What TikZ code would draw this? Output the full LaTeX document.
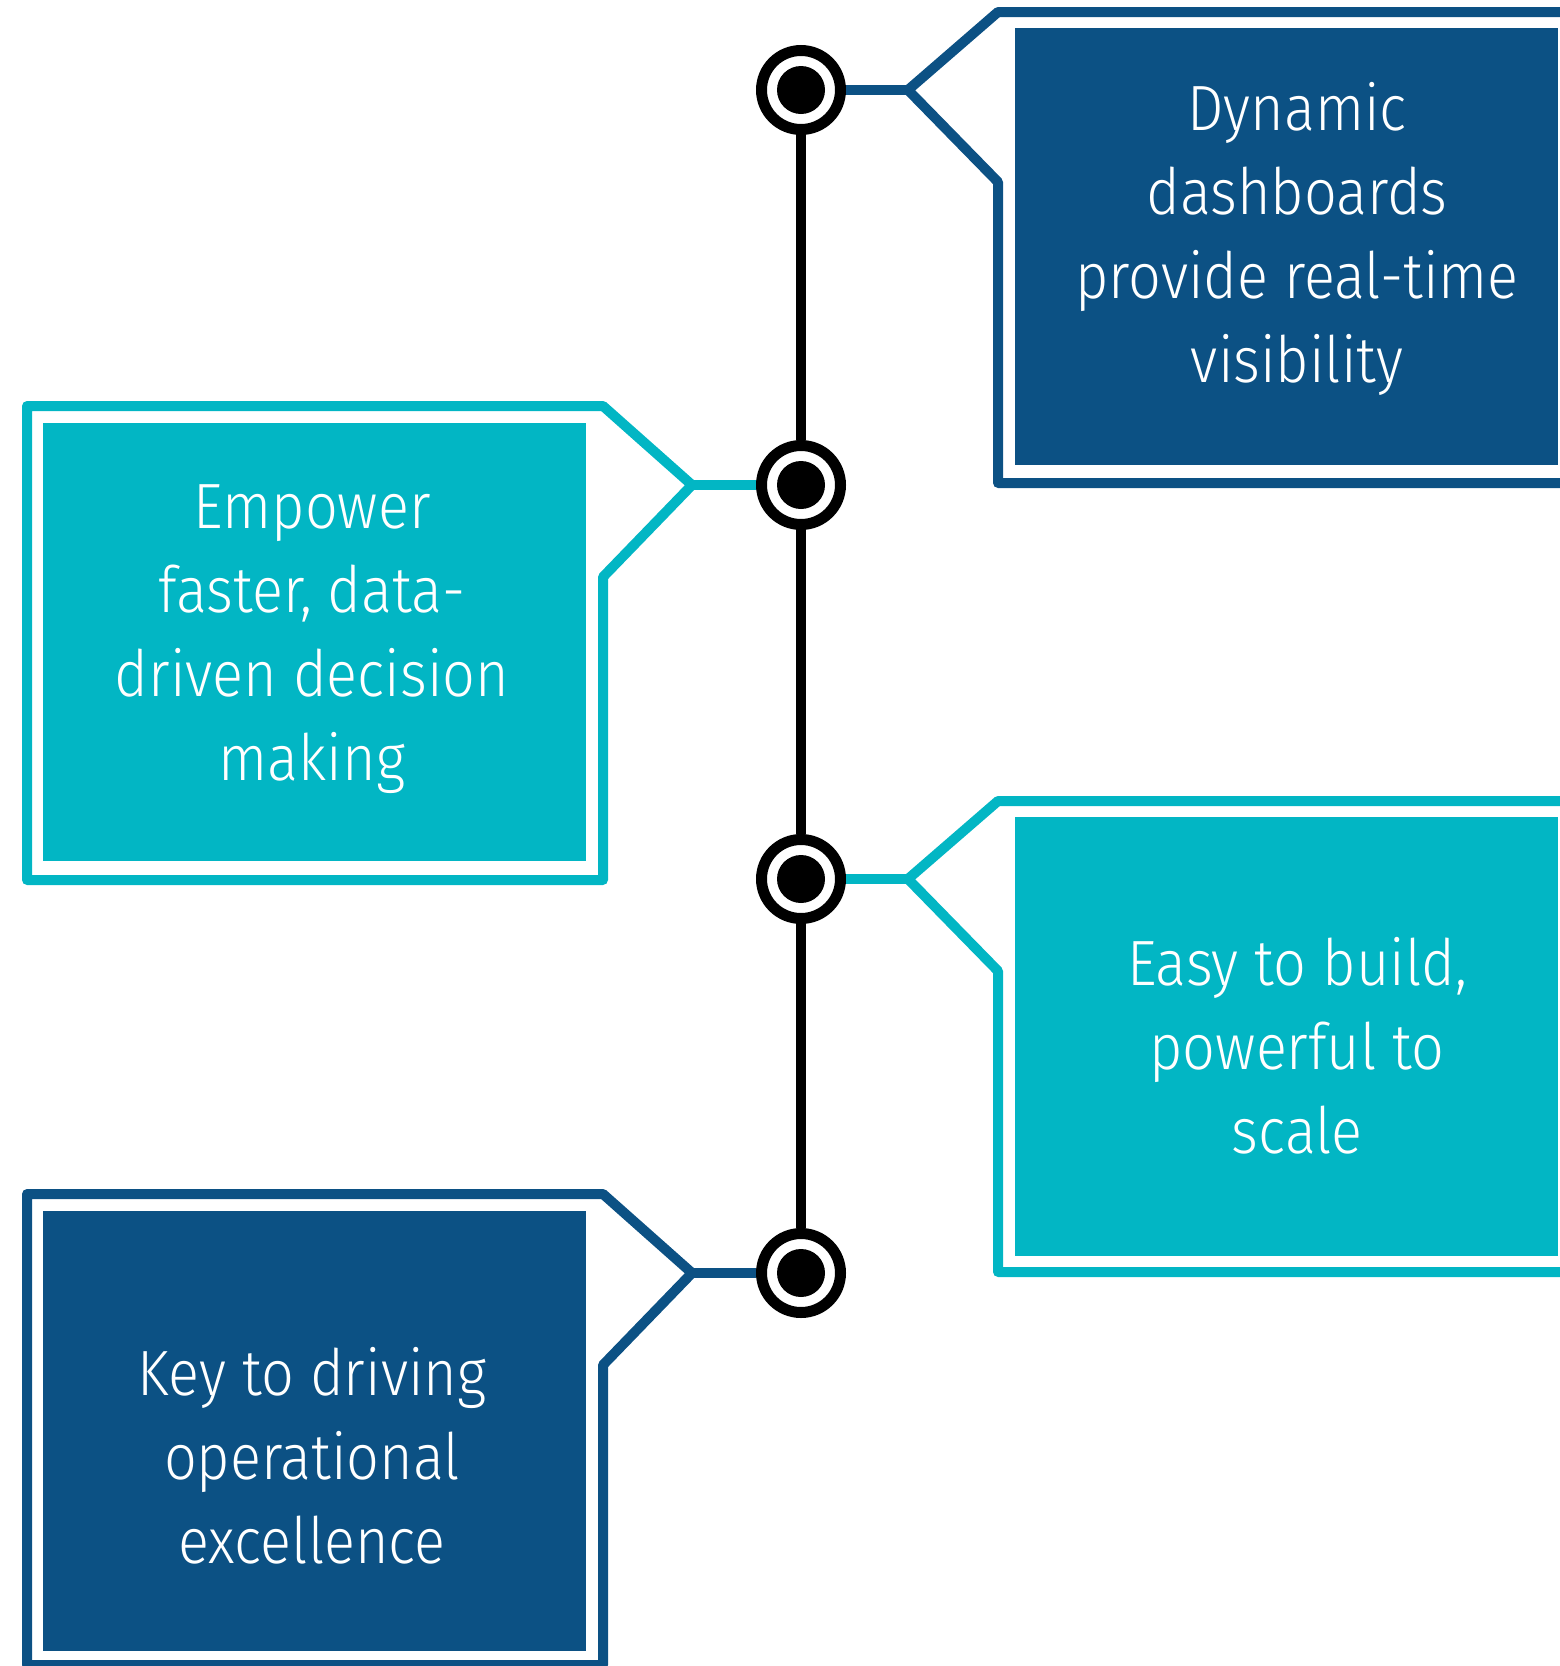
\documentclass[tikz,border=0pt]{standalone}
\usepackage{fontspec}
\setmainfont{Fira Sans Light}[FakeStretch=0.9]
\usetikzlibrary{positioning}
\definecolor{boxblue}{HTML}{0C5184}
\definecolor{boxcyan}{HTML}{02B6C4}

\begin{document}
\begin{tikzpicture}[x=1pt, y=-1pt,
  milestone/.style={circle, draw=black, line width=11pt, fill=white, inner sep=0pt, minimum size=79pt,
    path picture={\fill[black] (path picture bounding box.center) circle (24pt);}},
  spine/.style={draw=black, line width=10pt},
  boxframe/.style={line width=10pt, line join=round},
  card/.style={inner sep=0pt, minimum width=543pt},
  cardtext/.style={text=white, align=center, font=\fontsize{64}{84}\selectfont}]
	\useasboundingbox (0,0) rectangle (1560,1666);
	\clip (0,0) rectangle (1560,1666);
	\node[card, fill=boxblue, minimum height=437pt] (c1) at (1286,246.5) {};
	\node[card, fill=boxcyan, minimum height=438pt] (c2) at (314.5,642) {};
	\node[card, fill=boxcyan, minimum height=439pt] (c3) at (1286,1036.5) {};
	\node[card, fill=boxblue, minimum height=440pt] (c4) at (314.5,1431) {};
	\node[cardtext] (t1) at (1297,239) {Dynamic\\dashboards\\provide real-time\\visibility};
	\node[cardtext] (t2) at (312,639) {Empower\\faster, data-\\driven decision\\making};
	\node[cardtext] (t3) at (1297,1046) {Easy to build,\\powerful to\\scale};
	\node[cardtext] (t4) at (312,1456) {Key to driving\\operational\\excellence};
	\node[milestone] (m1) at (801,90) {};
	\node[milestone] (m2) at (801,485) {};
	\node[milestone] (m3) at (801,879) {};
	\node[milestone] (m4) at (801,1273) {};
	\draw[spine] (m1) -- (m2) (m2) -- (m3) (m3) -- (m4);
	\coordinate (e1) at (908,90);
	\coordinate (e2) at (692,485);
	\coordinate (e3) at (908,879);
	\coordinate (e4) at (692,1273);
	\draw[boxframe, boxblue] (1575,12) -- (998,12) -- (e1) -- (998,182) -- (998,483) -- (1575,483);
	\draw[boxframe, boxcyan] (27,406) -- (603,406) -- (e2) -- (603,577) -- (603,880) -- (27,880) -- cycle;
	\draw[boxframe, boxcyan] (1575,801) -- (998,801) -- (e3) -- (998,971) -- (998,1272) -- (1575,1272);
	\draw[boxframe, boxblue] (27,1194) -- (603,1194) -- (e4) -- (603,1365) -- (603,1665) -- (27,1665) -- cycle;
	\draw[boxframe, boxblue] (m1) -- (e1);
	\draw[boxframe, boxcyan] (m2) -- (e2);
	\draw[boxframe, boxcyan] (m3) -- (e3);
	\draw[boxframe, boxblue] (m4) -- (e4);
\end{tikzpicture}
\end{document}
